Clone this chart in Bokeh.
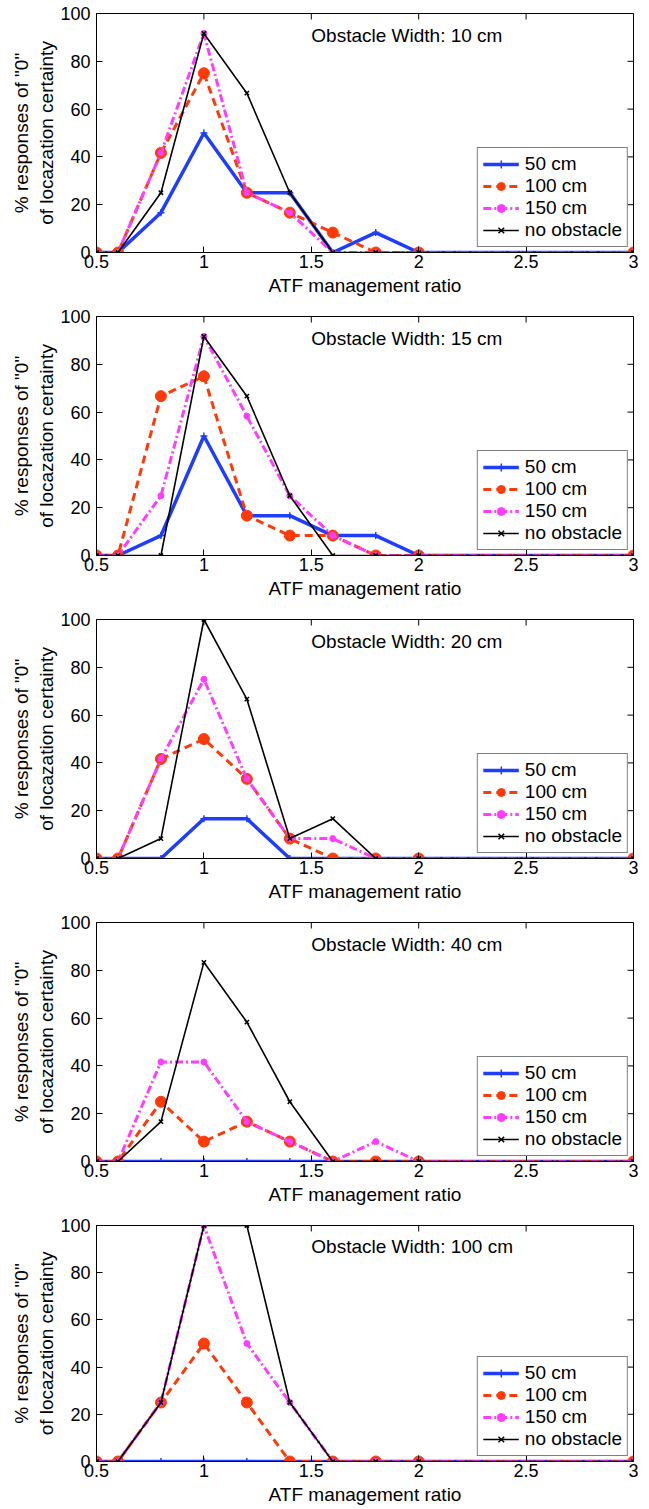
import math
from bokeh.plotting import figure
from bokeh.layouts import column
from bokeh.models import Range1d, FixedTicker, Legend, LegendItem, Label
from bokeh.embed import file_html
from bokeh.resources import INLINE

ratios = [0.5, 0.6, 0.8, 1.0, 1.2, 1.4, 1.6, 1.8, 2.0, 3.0]
widths = ["10 cm", "15 cm", "20 cm", "40 cm", "100 cm"]
series_names = ["50 cm", "100 cm", "150 cm", "no obstacle"]

w10_50 = [0, 0, 16.67, 50, 25, 25, 0, 8.33, 0, 0]
w10_100 = [0, 0, 41.67, 75, 25, 16.67, 8.33, 0, 0, 0]
w10_150 = [0, 0, 41.67, 91.67, 25, 16.67, 0, 0, 0, 0]
w10_none = [0, 0, 25, 91.67, 66.67, 25, 0, 0, 0, 0]

w15_50 = [0, 0, 8.33, 50, 16.67, 16.67, 8.33, 8.33, 0, 0]
w15_100 = [0, 0, 66.67, 75, 16.67, 8.33, 8.33, 0, 0, 0]
w15_150 = [0, 0, 25, 91.67, 58.33, 25, 8.33, 0, 0, 0]
w15_none = [0, 0, 0, 91.67, 66.67, 25, 0, 0, 0, 0]

w20_50 = [0, 0, 0, 16.67, 16.67, 0, 0, 0, 0, 0]
w20_100 = [0, 0, 41.67, 50, 33.33, 8.33, 0, 0, 0, 0]
w20_150 = [0, 0, 41.67, 75, 33.33, 8.33, 8.33, 0, 0, 0]
w20_none = [0, 0, 8.33, 100, 66.67, 8.33, 16.67, 0, 0, 0]

w40_50 = [0, 0, 0, 0, 0, 0, 0, 0, 0, 0]
w40_100 = [0, 0, 25, 8.33, 16.67, 8.33, 0, 0, 0, 0]
w40_150 = [0, 0, 41.67, 41.67, 16.67, 8.33, 0, 8.33, 0, 0]
w40_none = [0, 0, 16.67, 83.33, 58.33, 25, 0, 0, 0, 0]

w100_50 = [0, 0, 0, 0, 0, 0, 0, 0, 0, 0]
w100_100 = [0, 0, 25, 50, 25, 0, 0, 0, 0, 0]
w100_150 = [0, 0, 25, 100, 50, 25, 0, 0, 0, 0]
w100_none = [0, 0, 25, 100, 100, 25, 0, 0, 0, 0]

panels = [
    [w10_50, w10_100, w10_150, w10_none],
    [w15_50, w15_100, w15_150, w15_none],
    [w20_50, w20_100, w20_150, w20_none],
    [w40_50, w40_100, w40_150, w40_none],
    [w100_50, w100_100, w100_150, w100_none],
]

x_ticks = [0.5, 1, 1.5, 2, 2.5, 3]
y_ticks = [0, 20, 40, 60, 80, 100]
X_MIN, X_MAX = 0.5, 3
Y_MIN, Y_MAX = 0, 100

FONT = "Liberation Sans"
styles = [
    dict(color="#1f3dff", lw=3.5, dash="solid", marker="cross", size=7),
    dict(color="#ff3a0a", lw=3, dash="8 5", marker="circle", size=11),
    dict(color="#ff3cff", lw=3, dash="8 3 2 3", marker="circle", size=6),
    dict(color="#000000", lw=1.6, dash="solid", marker="x", size=6),
]

figs = []
for i, (wname, data) in enumerate(zip(widths, panels)):
    last = i == len(widths) - 1
    top_b, bot_b = 13, (43 if last else 51)
    p = figure(width=96 + 537 + 16, height=top_b + 239 + bot_b,
               output_backend="svg", toolbar_location=None,
               x_range=Range1d(X_MIN, X_MAX), y_range=Range1d(Y_MIN, Y_MAX),
               min_border_left=96, min_border_right=16, min_border_top=top_b,
               min_border_bottom=bot_b)
    p.grid.visible = False
    p.outline_line_color = "black"
    p.outline_line_width = 1
    p.background_fill_color = "white"
    p.border_fill_color = "white"

    xa = p.xaxis[0]
    xa.ticker = FixedTicker(ticks=x_ticks)
    ya = p.yaxis[0]
    ya.ticker = FixedTicker(ticks=y_ticks)
    for ax in (xa, ya):
        ax.major_tick_in = 6
        ax.major_tick_out = 0
        ax.minor_tick_in = 0
        ax.minor_tick_out = 0
        ax.axis_line_color = "black"
        ax.major_label_text_font = FONT
        ax.major_label_text_font_size = "18px"
        ax.major_label_text_color = "black"
        ax.axis_label_text_font = FONT
        ax.axis_label_text_font_size = "19px"
        ax.axis_label_text_font_style = "normal"
        ax.axis_label_text_color = "black"
    xa.major_label_standoff = 2
    ya.major_label_standoff = 6
    xa.axis_label = "ATF management ratio"
    xa.axis_label_standoff = 4
    ya.axis_label = '% responses of "0"\nof locazation certainty'
    ya.axis_label_standoff = 0

    # inward ticks on the top and right edges of the box (MATLAB style)
    p.ray(x=x_ticks, y=[Y_MAX] * len(x_ticks), length=6, length_units="screen",
          angle=-math.pi / 2, line_color="black", line_width=1)
    p.ray(x=[X_MAX] * len(y_ticks), y=y_ticks, length=6, length_units="screen",
          angle=math.pi, line_color="black", line_width=1)

    items = []
    for name, ys, st in zip(series_names, data, styles):
        ln = p.line(ratios, ys, line_color=st["color"], line_width=st["lw"],
                    line_dash=st["dash"])
        sc = p.scatter(ratios, ys, marker=st["marker"], size=st["size"],
                       line_color=st["color"], fill_color=st["color"],
                       line_width=1.5 if st["marker"] in ("cross", "x") else 1)
        items.append(LegendItem(label=name, renderers=[ln, sc]))

    leg = Legend(items=items, location="bottom_right", margin=5,
                 label_text_font=FONT, label_text_font_size="19px",
                 label_text_color="black", glyph_width=36, glyph_height=20,
                 label_height=20, spacing=0, padding=5, label_standoff=6,
                 border_line_color="black", border_line_width=1,
                 background_fill_color="white", background_fill_alpha=1)
    p.add_layout(leg, "center")

    p.add_layout(Label(x=1.5, y=91, text="Obstacle Width: " + wname,
                       text_font=FONT, text_font_size="19px",
                       text_baseline="middle", text_align="left",
                       text_color="black"))
    figs.append(p)

layout = column(*figs, spacing=0)
open("out.html", "w").write(file_html(layout, INLINE))
